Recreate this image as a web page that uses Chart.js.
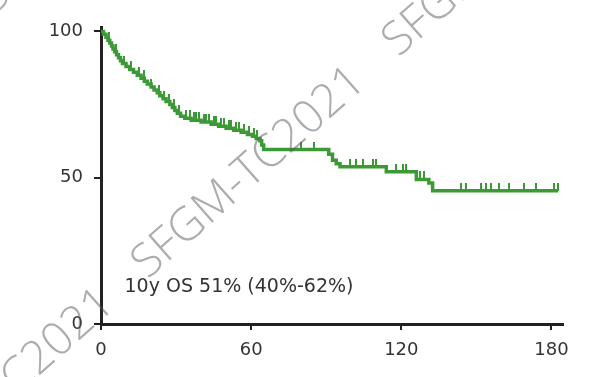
<!DOCTYPE html>
<html>
<head>
<meta charset="utf-8">
<script src="https://cdn.jsdelivr.net/npm/chart.js@4.4.0/dist/chart.umd.min.js"></script>
<style>
  html, body { margin: 0; padding: 0; background: #fff; }
  #wrap { width: 602px; height: 377px; position: relative; }
</style>
</head>
<body>
<div id="wrap"><canvas id="os"></canvas></div>
<script>
// overall survival (Kaplan-Meier), months vs % alive
const eventMonths = [0, 1, 2, 2.8, 3.5, 4.2, 4.8, 5.5, 6.2, 7, 7.8, 8.6, 10, 11.5, 13, 14.5, 16, 17.3, 18.5, 20,
  21.2, 22.5, 23.5, 24.8, 26, 27.5, 28.5, 29.5, 30.5, 31.8, 33.5, 36, 40, 44, 47, 50, 53, 56, 58.5, 60.5,
  62, 63.5, 64.2, 65, 91, 92.5, 94, 95.5, 114, 126, 131, 132.5, 182.6];
const survival = [100, 99, 98, 97, 96, 95, 94, 93, 92, 91, 90, 89, 88, 87, 86, 85, 84, 83, 82, 81,
  80, 79, 78, 77, 76, 75, 74, 73, 72, 71, 70.3, 69.6, 69, 68.3, 67.6, 66.9, 66.2, 65.5, 64.8, 64.2,
  63.4, 62.6, 61.2, 59.6, 58, 56, 54.8, 53.7, 52, 49.4, 48.2, 45.5, 45.5];
const censorMonths = [3, 6, 9, 12, 15, 17, 20, 23, 25, 27, 29, 31, 34, 35.5, 37, 38, 39, 41, 42, 43, 45, 46,
  48, 49, 51, 52, 54, 55, 57, 59, 61, 62.5, 80, 85, 99.5, 102, 104.5, 108.5, 110, 118, 120.5, 122,
  127.5, 129, 144, 146, 152, 154, 156, 159, 163, 169, 174, 181, 182.6];
const xTicks = [0, 60, 120, 180];
const yTicks = [0, 50, 100];
const annotation = "10y OS 51% (40%-62%)";
const watermark = "SFGM-TC2021";

const green = "#3b9a35";

function survAt(t) {
  let s = survival[0];
  for (let i = 0; i < eventMonths.length; i++) {
    if (eventMonths[i] <= t) s = survival[i];
  }
  return s;
}

// censor mark: short vertical tick sitting on top of the curve
const tick = document.createElement("canvas");
tick.width = 2;
tick.height = 16;
const tctx = tick.getContext("2d");
tctx.fillStyle = green;
tctx.fillRect(0, 0, 2, 8);

const overlay = {
  id: "overlay",
  afterDatasetsDraw(chart) {
    const { ctx, scales } = chart;
    ctx.save();
    ctx.font = '19px "DejaVu Sans"';
    ctx.fillStyle = "#333";
    ctx.textBaseline = "middle";
    ctx.fillText(annotation, scales.x.getPixelForValue(9.4), scales.y.getPixelForValue(12.5));
    ctx.restore();
  },
  afterDraw(chart) {
    const ctx = chart.ctx;
    ctx.save();
    ctx.font = '300 46px "Open Sans"';
    ctx.fillStyle = "rgba(90,90,90,0.5)";
    ctx.textBaseline = "middle";
    ctx.translate(139, 270);
    ctx.rotate(-41.5 * Math.PI / 180);
    for (let k = -2; k <= 2; k++) {
      ctx.fillText(watermark, k * 335, 0);
      ctx.fillText(watermark, k * 335 + 60, -300);
    }
    ctx.restore();
  }
};

new Chart(document.getElementById("os"), {
  type: "line",
  data: {
    datasets: [
      {
        data: eventMonths.map((m, i) => ({ x: m, y: survival[i] })),
        borderColor: green,
        borderWidth: 3.5,
        stepped: true,
        pointRadius: 0,
        fill: false,
        clip: false,
      },
      {
        data: censorMonths.map((m) => ({ x: m, y: survAt(m) })),
        showLine: false,
        pointStyle: tick,
        pointRadius: 4,
        clip: false,
      },
    ],
  },
  options: {
    responsive: true,
    maintainAspectRatio: false,
    animation: false,
    layout: { padding: { left: 0, top: 27, right: 39, bottom: 12 } },
    plugins: {
      legend: { display: false },
      tooltip: { enabled: false },
    },
    scales: {
      x: {
        type: "linear",
        min: 0,
        max: 184.6,
        afterBuildTicks: (s) => { s.ticks = xTicks.map((v) => ({ value: v })); },
        afterFit: (s) => { s.height = 41; },
        border: { display: true, color: "#222", width: 3 },
        grid: { drawOnChartArea: false, drawTicks: true, tickLength: 6, color: "#222", lineWidth: 2 },
        ticks: { color: "#333", padding: 10, font: { family: "DejaVu Sans", size: 18 }, maxRotation: 0 },
      },
      y: {
        min: 0,
        max: 101.5,
        afterBuildTicks: (s) => { s.ticks = yTicks.map((v) => ({ value: v })); },
        afterFit: (s) => { s.width = 101; },
        border: { display: true, color: "#222", width: 3 },
        grid: { drawOnChartArea: false, drawTicks: true, tickLength: 7, color: "#222", lineWidth: 2 },
        ticks: { color: "#333", padding: 11, font: { family: "DejaVu Sans", size: 18 } },
      },
    },
  },
  plugins: [overlay],
});
</script>
</body>
</html>
